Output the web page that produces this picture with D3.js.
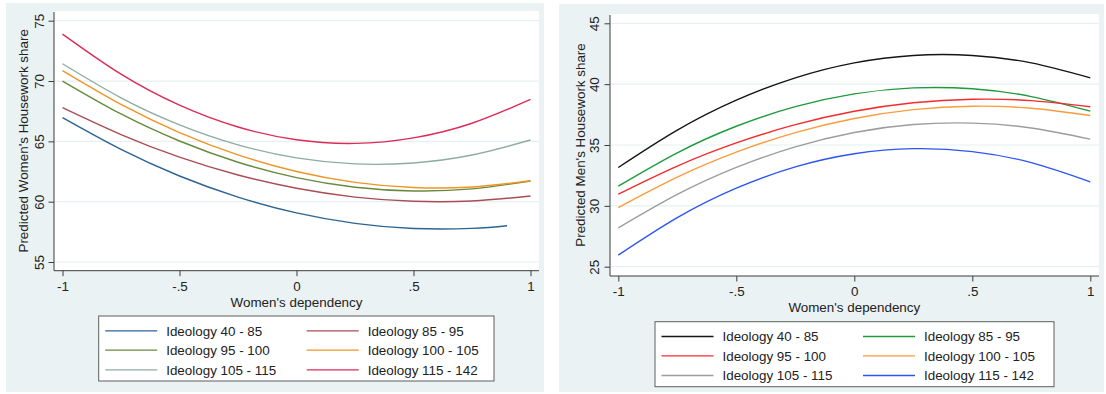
<!DOCTYPE html>
<html>
<head>
<meta charset="utf-8">
<script src="https://cdn.jsdelivr.net/npm/d3@7/dist/d3.min.js"></script>
<style>
  html, body { margin: 0; padding: 0; background: #ffffff; }
  svg { display: block; font-family: "Liberation Sans", Arial, Helvetica, sans-serif; }
</style>
</head>
<body>
<svg id="chart" width="1106" height="394"></svg>
<script>
// Predicted housework share by women's dependency, one curve per ideology group
const groups = ["Ideology 40 - 85", "Ideology 85 - 95", "Ideology 95 - 100",
                "Ideology 100 - 105", "Ideology 105 - 115", "Ideology 115 - 142"];

const dependency = [-1, -0.75, -0.5, -0.25, 0, 0.25, 0.5, 0.75, 1];
const dependencyLowest = [-1, -0.75, -0.5, -0.25, 0, 0.25, 0.5, 0.75, 0.9];

// Women's predicted housework share
const women40to85   = [66.96, 64.33, 62.13, 60.38, 59.07, 58.20, 57.78, 57.79, 58.01];
const women85to95   = [67.79, 65.56, 63.69, 62.21, 61.11, 60.38, 60.03, 60.06, 60.47];
const women95to100  = [70.00, 67.27, 65.03, 63.27, 61.99, 61.20, 60.89, 61.06, 61.71];
const women100to105 = [70.86, 68.06, 65.73, 63.88, 62.50, 61.60, 61.17, 61.22, 61.74];
const women105to115 = [71.43, 68.61, 66.37, 64.71, 63.63, 63.13, 63.21, 63.87, 65.11];
const women115to142 = [73.89, 70.57, 68.00, 66.19, 65.13, 64.83, 65.29, 66.50, 68.47];

// Men's predicted housework share
const men40to85   = [33.15, 36.22, 38.68, 40.52, 41.75, 42.36, 42.36, 41.75, 40.52];
const men85to95   = [31.62, 34.36, 36.54, 38.15, 39.20, 39.69, 39.62, 38.98, 37.78];
const men95to100  = [30.96, 33.27, 35.17, 36.67, 37.77, 38.47, 38.76, 38.65, 38.14];
const men100to105 = [29.86, 32.36, 34.41, 36.02, 37.18, 37.91, 38.19, 38.02, 37.42];
const men105to115 = [28.19, 30.94, 33.16, 34.85, 36.03, 36.68, 36.80, 36.40, 35.48];
const men115to142 = [25.95, 29.03, 31.45, 33.20, 34.28, 34.70, 34.46, 33.55, 31.97];

const xTicks = [-1, -0.5, 0, 0.5, 1];
const xTickLabels = ["-1", "-.5", "0", ".5", "1"];
const womenTicks = [55, 60, 65, 70, 75];
const menTicks = [25, 30, 35, 40, 45];

const womenColors = ["#2d6494", "#a94d55", "#678b3e", "#ef9527", "#8eaca2", "#dc2b57"];
const menColors   = ["#151515", "#1f9a3d", "#f52a2c", "#fb9b3e", "#9d9d9d", "#2c55f4"];

const svg = d3.select("#chart");
const BG = "#eaf2f3";
const INK = "#222222";
const AXIS = "#3c3c3c";

function drawPanel(p) {
  const g = svg.append("g");

  // outer graph background and white plot region
  g.append("rect").attr("x", p.bg[0]).attr("y", p.bg[1])
    .attr("width", p.bg[2] - p.bg[0]).attr("height", p.bg[3] - p.bg[1]).attr("fill", BG);
  g.append("rect").attr("x", p.plot[0]).attr("y", p.plot[1])
    .attr("width", p.plot[2] - p.plot[0]).attr("height", p.plot[3] - p.plot[1]).attr("fill", "#ffffff");

  const x = d3.scaleLinear().domain([-1, 1]).range(p.xRange);
  const y = d3.scaleLinear().domain(p.yDomain).range(p.yRange);

  // horizontal grid lines
  g.append("g").selectAll("line").data(p.yTicks).join("line")
    .attr("x1", p.plot[0] + 1).attr("x2", p.plot[2])
    .attr("y1", d => y(d)).attr("y2", d => y(d))
    .attr("stroke", "#e6eff1").attr("stroke-width", 1.2);

  // curves
  const line = d3.line().x(d => x(d[0])).y(d => y(d[1])).curve(d3.curveNatural);
  p.series.forEach((s, i) => {
    g.append("path").datum(d3.zip(s.x, s.values))
      .attr("fill", "none").attr("stroke", p.colors[i]).attr("stroke-width", 1.4)
      .attr("d", line);
  });

  // x axis
  const xAxis = g.append("g").attr("transform", `translate(0,${p.plot[3]})`)
    .call(d3.axisBottom(x).tickValues(xTicks).tickFormat((d, i) => xTickLabels[i])
      .tickSize(5.5).tickSizeOuter(0));
  xAxis.select(".domain").remove();
  xAxis.selectAll(".tick line").attr("stroke", AXIS);
  xAxis.selectAll(".tick text").attr("y", p.xLabelBase - p.plot[3]).attr("dy", null)
    .attr("fill", INK).attr("font-size", "13.4px").attr("font-family", null);
  g.append("line").attr("x1", p.plot[0]).attr("x2", p.plot[2])
    .attr("y1", p.plot[3]).attr("y2", p.plot[3]).attr("stroke", AXIS).attr("stroke-width", 1);

  // y axis with upright-rotated labels
  const yAxis = g.append("g").attr("transform", `translate(${p.plot[0]},0)`)
    .call(d3.axisLeft(y).tickValues(p.yTicks).tickFormat(d3.format("d"))
      .tickSize(5.5).tickSizeOuter(0));
  yAxis.select(".domain").remove();
  yAxis.selectAll(".tick line").attr("stroke", AXIS);
  yAxis.selectAll(".tick text")
    .attr("x", 0).attr("dy", null).attr("text-anchor", "middle")
    .attr("transform", `translate(${p.yLabelBase - p.plot[0]},0) rotate(-90)`)
    .attr("fill", INK).attr("font-size", "13.4px").attr("font-family", null);
  g.append("line").attr("x1", p.plot[0]).attr("x2", p.plot[0])
    .attr("y1", p.plot[1] + 1).attr("y2", p.plot[3]).attr("stroke", AXIS).attr("stroke-width", 1);

  // axis titles
  g.append("text").attr("x", x(0)).attr("y", p.xTitleBase)
    .attr("text-anchor", "middle").attr("font-size", "13.4px").attr("fill", INK)
    .text("Women's dependency");
  const midY = (p.plot[1] + p.plot[3]) / 2;
  g.append("text").attr("transform", `translate(${p.yTitleBase},${midY}) rotate(-90)`)
    .attr("text-anchor", "middle").attr("font-size", "13.4px").attr("fill", INK)
    .text(p.yTitle);

  // legend: two columns, three rows
  const L = p.legend;
  const lg = g.append("g").attr("transform", `translate(${L[0]},${L[1]})`);
  lg.append("rect").attr("x", 0).attr("y", 0).attr("width", L[2]).attr("height", L[3])
    .attr("fill", "#ffffff").attr("stroke", "#5e5e5e").attr("stroke-width", 1);
  const rows = [14.8, 34.2, 53.8];
  groups.forEach((name, i) => {
    const col = i % 2, row = Math.floor(i / 2);
    const x0 = col === 0 ? 6.5 : 208;
    const ry = rows[row];
    lg.append("line").attr("x1", x0).attr("x2", x0 + 52).attr("y1", ry).attr("y2", ry)
      .attr("stroke", p.colors[i]).attr("stroke-width", 1.3);
    lg.append("text").attr("x", x0 + 61).attr("y", ry + 4.9)
      .attr("font-size", "13.4px").attr("fill", INK).text(name);
  });
}

drawPanel({
  bg: [6, 3, 544, 392],
  plot: [54, 11, 539, 270.7],
  xRange: [62.5, 530.5],
  yDomain: [55, 75], yRange: [262, 20.7],
  yTicks: womenTicks,
  xLabelBase: 291.5, xTitleBase: 306.5,
  yLabelBase: 43.6, yTitleBase: 28,
  yTitle: "Predicted Women's Housework share",
  colors: womenColors,
  legend: [98.7, 316, 395.3, 65],
  series: [
    { x: dependencyLowest, values: women40to85 },
    { x: dependency, values: women85to95 },
    { x: dependency, values: women95to100 },
    { x: dependency, values: women100to105 },
    { x: dependency, values: women105to115 },
    { x: dependency, values: women115to142 }
  ]
});

drawPanel({
  bg: [559, 4, 1104, 392],
  plot: [610, 14, 1099, 276],
  xRange: [618.3, 1090.3],
  yDomain: [25, 45], yRange: [266.7, 23.3],
  yTicks: menTicks,
  xLabelBase: 296.3, xTitleBase: 312,
  yLabelBase: 599.2, yTitleBase: 585,
  yTitle: "Predicted Men's Housework share",
  colors: menColors,
  legend: [655, 321.7, 399, 65],
  series: [
    { x: dependency, values: men40to85 },
    { x: dependency, values: men85to95 },
    { x: dependency, values: men95to100 },
    { x: dependency, values: men100to105 },
    { x: dependency, values: men105to115 },
    { x: dependency, values: men115to142 }
  ]
});
</script>
</body>
</html>
